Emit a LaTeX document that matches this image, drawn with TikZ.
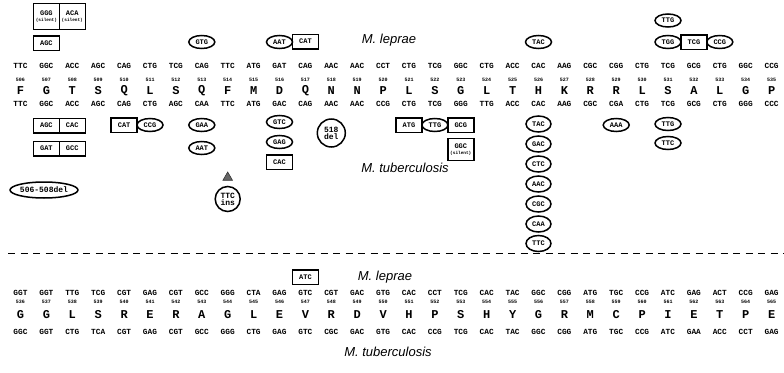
\documentclass[tikz,border=0pt]{standalone}
\usepackage{fontspec}
\usetikzlibrary{shapes.geometric}
\newfontfamily\monofam{Liberation Mono}
\newfontfamily\sansfam{Liberation Sans}
\newcommand\codonfont{\monofam\bfseries\fontsize{7.8}{8}\selectfont}
\newcommand\numfont{\monofam\bfseries\fontsize{5}{6}\selectfont}
\newcommand\aafont{\monofam\bfseries\fontsize{12}{12}\selectfont}
\newcommand\markfont{\monofam\bfseries\fontsize{7}{7}\selectfont}
\newcommand\tinyfont{\monofam\bfseries\fontsize{4.4}{4.6}\selectfont}
\newcommand\ringfont{\monofam\bfseries\fontsize{8}{8}\selectfont}
\newcommand\speciesfont{\sansfam\itshape\fontsize{13}{14}\selectfont}
\begin{document}
\begin{tikzpicture}[x=1pt,y=-1pt,
  codon/.style={font=\codonfont, inner sep=0pt},
  num/.style={font=\numfont, inner sep=0pt},
  aa/.style={font=\aafont, inner sep=0pt},
  species/.style={font=\speciesfont, inner sep=0pt},
  mbox/.style={draw, line width=1.5pt, rectangle, minimum width=26pt, minimum height=14.5pt,
    inner sep=1pt, font=\markfont, align=center},
  silentbox/.style={mbox, minimum height=26pt},
  oval/.style={draw, line width=1.5pt, ellipse, minimum width=26pt, minimum height=13pt,
    inner sep=0pt, font=\markfont},
  stackoval/.style={oval, minimum width=25pt, minimum height=16pt},
  ring/.style={draw, line width=1.5pt, circle, inner sep=0.5pt, font=\ringfont, align=center}]
\useasboundingbox (0,0) rectangle (784,372);

% ---------- codons 506-535 ----------
\foreach \c [count=\k from 0] in {TTC,GGC,ACC,AGC,CAG,CTG,TCG,CAG,TTC,ATG,GAT,CAG,AAC,AAC,CCT,
    CTG,TCG,GGC,CTG,ACC,CAC,AAG,CGC,CGG,CTG,TCG,GCG,CTG,GGC,CCG} {
  \pgfmathtruncatemacro\n{506+\k}
  \node[codon] (L\n) at ({20.5+25.9*\k},66) {\c};
  \node[num] (N\n) at ({20.5+25.9*\k},80) {\n};
}
\foreach \a [count=\k from 0] in {F,G,T,S,Q,L,S,Q,F,M,D,Q,N,N,P,L,S,G,L,T,H,K,R,R,L,S,A,L,G,P} {
  \pgfmathtruncatemacro\n{506+\k}
  \node[aa] (A\n) at ({20.5+25.9*\k},90.5) {\a};
}
\foreach \c [count=\k from 0] in {TTC,GGC,ACC,AGC,CAG,CTG,AGC,CAA,TTC,ATG,GAC,CAG,AAC,AAC,CCG,
    CTG,TCG,GGG,TTG,ACC,CAC,AAG,CGC,CGA,CTG,TCG,GCG,CTG,GGG,CCC} {
  \pgfmathtruncatemacro\n{506+\k}
  \node[codon] (T\n) at ({20.5+25.9*\k},104) {\c};
}

% ---------- codons 536-565 ----------
\foreach \c [count=\k from 0] in {GGT,GGT,TTG,TCG,CGT,GAG,CGT,GCC,GGG,CTA,GAG,GTC,CGT,GAC,GTG,
    CAC,CCT,TCG,CAC,TAC,GGC,CGG,ATG,TGC,CCG,ATC,GAG,ACT,CCG,GAG} {
  \pgfmathtruncatemacro\n{536+\k}
  \node[codon] (L\n) at ({20.5+25.9*\k},293) {\c};
  \node[num] (N\n) at ({20.5+25.9*\k},302) {\n};
}
\foreach \a [count=\k from 0] in {G,G,L,S,R,E,R,A,G,L,E,V,R,D,V,H,P,S,H,Y,G,R,M,C,P,I,E,T,P,E} {
  \pgfmathtruncatemacro\n{536+\k}
  \node[aa] (A\n) at ({20.5+25.9*\k},315) {\a};
}
\foreach \c [count=\k from 0] in {GGC,GGT,CTG,TCA,CGT,GAG,CGT,GCC,GGG,CTG,GAG,GTC,CGC,GAC,GTG,
    CAC,CCG,TCG,CAC,TAC,GGC,CGG,ATG,TGC,CCG,ATC,GAA,ACC,CCT,GAG} {
  \pgfmathtruncatemacro\n{536+\k}
  \node[codon] (T\n) at ({20.5+25.9*\k},332) {\c};
}

% ---------- species labels and divider ----------
\node[species] (lepTop) at (389,40) {M. leprae};
\node[species] (tbTop) at (405,168) {M. tuberculosis};
\node[species] (lepBot) at (385,277) {M. leprae};
\node[species] (tbBot) at (388,352) {M. tuberculosis};
\coordinate (dashL) at (8,253);
\coordinate (dashR) at (784,253);
\draw[line width=0.8pt, dash pattern=on 7pt off 5.5pt] (dashL) -- (dashR);

% ---------- M. leprae variants (above) ----------
\node[silentbox] (uGGG) at (L507 |- 0,16.5) {GGG\\[-1pt]{\tinyfont(silent)}};
\node[silentbox] (uACA) at (L508 |- 0,16.5) {ACA\\[-1pt]{\tinyfont(silent)}};
\node[mbox] (uAGC) at (L507 |- 0,43) {AGC};
\node[oval] (uGTG) at (L513 |- 0,42) {GTG};
\node[oval] (uAAT) at (L516 |- 0,42) {AAT};
\node[mbox] (uCAT) at (L517 |- 0,41.5) {CAT};
\node[oval] (uTAC) at (L526 |- 0,42) {TAC};
\node[oval] (uTTG) at (L531 |- 0,20.5) {TTG};
\node[oval] (uTGG) at (L531 |- 0,42) {TGG};
\node[mbox] (uTCG) at (L532 |- 0,42) {TCG};
\node[oval] (uCCG) at (L533 |- 0,42) {CCG};

% ---------- M. tuberculosis variants (below) ----------
\node[mbox] (dAGC) at (L507 |- 0,125.5) {AGC};
\node[mbox] (dCAC) at (L508 |- 0,125.5) {CAC};
\node[mbox] (dGAT) at (L507 |- 0,148.5) {GAT};
\node[mbox] (dGCC) at (L508 |- 0,148.5) {GCC};
\node[mbox] (dCAT) at (L510 |- 0,125) {CAT};
\node[oval] (dCCG) at (L511 |- 0,125) {CCG};
\node[oval] (dGAA) at (L513 |- 0,125) {GAA};
\node[oval] (dAAT) at (L513 |- 0,148) {AAT};
\node[regular polygon, regular polygon sides=3, fill=black!60, draw=black!80, line width=0.6pt,
  inner sep=0pt, minimum size=11pt] (dTri) at (L514 |- 0,177.5) {};
\node[ring, minimum size=25pt] (dIns) at (L514 |- 0,199) {TTC\\[-1pt]ins};
\node[oval] (dGTC) at (L516 |- 0,122) {GTC};
\node[oval] (dGAG) at (L516 |- 0,142) {GAG};
\node[mbox] (dCAC2) at (L516 |- 0,162) {CAC};
\node[ring, minimum size=28pt] (dDel) at (L518 |- 0,133) {518\\[-1pt]del};
\node[mbox] (dATG) at (L521 |- 0,125) {ATG};
\node[oval] (dTTG) at (L522 |- 0,125) {TTG};
\node[mbox] (dGCG) at (L523 |- 0,125) {GCG};
\node[mbox, minimum height=22pt] (dGGC) at (L523 |- 0,149.5) {GGC\\[-1pt]{\tinyfont(silent)}};
\node[stackoval] (dTAC) at (L526 |- 0,124) {TAC};
\node[stackoval] (dGAC) at (L526 |- 0,144) {GAC};
\node[stackoval] (dCTC) at (L526 |- 0,164) {CTC};
\node[stackoval] (dAAC) at (L526 |- 0,184) {AAC};
\node[stackoval] (dCGC) at (L526 |- 0,204) {CGC};
\node[stackoval] (dCAA) at (L526 |- 0,224) {CAA};
\node[stackoval] (dTTC) at (L526 |- 0,243.5) {TTC};
\node[oval] (dAAA) at (L529 |- 0,125) {AAA};
\node[oval] (dTTG2) at (L531 |- 0,124) {TTG};
\node[oval] (dTTC2) at (L531 |- 0,143) {TTC};
\node[oval, minimum width=62pt, minimum height=16pt, font=\monofam\bfseries\fontsize{8}{8}\selectfont]
  (dDel3) at (44,190) {506-508del};

% ---------- M. leprae variant 547 ----------
\node[mbox] (bATC) at (L547 |- 0,277) {ATC};
\end{tikzpicture}
\end{document}
